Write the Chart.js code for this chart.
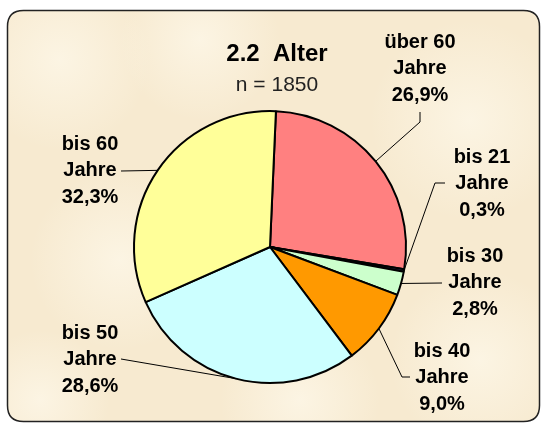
<!DOCTYPE html>
<html lang="de">
<head>
<meta charset="UTF-8">
<title>2.2 Alter</title>
<script src="https://cdn.jsdelivr.net/npm/chart.js"></script>
<style>
  html, body { margin: 0; padding: 0; background: #fff; }
  canvas { display: block; }
</style>
</head>
<body>
<canvas id="graficoAlter" width="541" height="423"></canvas>
<script>
    // Daten
    const altersgruppen = ['über 60', 'bis 21', 'bis 30', 'bis 40', 'bis 50', 'bis 60'];
    const anteile = [26.9, 0.3, 2.8, 9.0, 28.6, 32.3];
    const farben = ['#FF8080', '#333366', '#CCFFCC', '#FF9900', '#CCFFFF', '#FFFF99'];
    const titel = '2.2  Alter';
    const untertitel = 'n = 1850';

    // Lage der Beschriftungen (Mitte x, erste Zeile y) und Knick der Führungslinie
    const labelPos = [
        { x: 420, y: 42, anker: [420, 112], knick: [420, 122] },
        { x: 482, y: 157, anker: [445, 183], knick: [435, 183] },
        { x: 475, y: 256, anker: [442, 283], knick: null },
        { x: 442, y: 351, anker: [410, 377], knick: [402, 377] },
        { x: 90, y: 333, anker: [121, 359], knick: null },
        { x: 90, y: 144, anker: [121, 171], knick: null }
    ];

    function rundRechteck(ctx, x, y, w, h, r) {
        ctx.beginPath();
        ctx.moveTo(x + r, y);
        ctx.lineTo(x + w - r, y);
        ctx.quadraticCurveTo(x + w, y, x + w, y + r);
        ctx.lineTo(x + w, y + h - r);
        ctx.quadraticCurveTo(x + w, y + h, x + w - r, y + h);
        ctx.lineTo(x + r, y + h);
        ctx.quadraticCurveTo(x, y + h, x, y + h - r);
        ctx.lineTo(x, y + r);
        ctx.quadraticCurveTo(x, y, x + r, y);
        ctx.closePath();
    }

    const hintergrund = {
        id: 'hintergrund',
        beforeDraw(chart) {
            const ctx = chart.ctx;
            ctx.save();
            ctx.fillStyle = '#ffffff';
            ctx.fillRect(0, 0, chart.width, chart.height);
            rundRechteck(ctx, 7.5, 10.5, 532, 411, 16);
            ctx.fillStyle = '#F7EAD0';
            ctx.fill();
            ctx.clip();
            const flecken = [[60, 60, 90], [200, 40, 80], [470, 120, 100], [120, 260, 90], [480, 360, 90], [300, 400, 80], [40, 400, 70]];
            flecken.forEach(f => {
                const g = ctx.createRadialGradient(f[0], f[1], 0, f[0], f[1], f[2]);
                g.addColorStop(0, 'rgba(253,247,232,0.8)');
                g.addColorStop(1, 'rgba(253,247,232,0)');
                ctx.fillStyle = g;
                ctx.fillRect(f[0] - f[2], f[1] - f[2], f[2] * 2, f[2] * 2);
            });
            ctx.restore();
            ctx.save();
            rundRechteck(ctx, 7.5, 10.5, 532, 411, 16);
            ctx.strokeStyle = '#222';
            ctx.lineWidth = 1.5;
            ctx.stroke();
            ctx.restore();
        }
    };

    const beschriftung = {
        id: 'beschriftung',
        afterDraw(chart) {
            const ctx = chart.ctx;
            const meta = chart.getDatasetMeta(0);
            ctx.save();
            ctx.fillStyle = '#000';
            ctx.textAlign = 'center';
            ctx.textBaseline = 'middle';
            ctx.font = 'bold 24px "Liberation Sans", Arial, sans-serif';
            ctx.fillText(titel, 277, 54);
            ctx.font = '21px "Liberation Sans", Arial, sans-serif';
            ctx.fillStyle = '#222';
            ctx.fillText(untertitel, 277, 85);

            meta.data.forEach((arc, i) => {
                const p = arc.getProps(['x', 'y', 'startAngle', 'endAngle', 'outerRadius'], true);
                const mitte = (p.startAngle + p.endAngle) / 2;
                const ax = p.x + Math.cos(mitte) * p.outerRadius;
                const ay = p.y + Math.sin(mitte) * p.outerRadius;
                const lp = labelPos[i];

                ctx.beginPath();
                ctx.strokeStyle = '#000';
                ctx.lineWidth = 1;
                ctx.moveTo(lp.anker[0], lp.anker[1]);
                if (lp.knick) ctx.lineTo(lp.knick[0], lp.knick[1]);
                ctx.lineTo(ax, ay);
                ctx.stroke();

                const zeilen = [altersgruppen[i], 'Jahre', anteile[i].toFixed(1).replace('.', ',') + '%'];
                ctx.fillStyle = '#000';
                ctx.font = 'bold 20px "Liberation Sans", Arial, sans-serif';
                zeilen.forEach((z, k) => ctx.fillText(z, lp.x, lp.y + k * 26.5));
            });
            ctx.restore();
        }
    };

    const ctx = document.getElementById('graficoAlter').getContext('2d');

    new Chart(ctx, {
        type: 'pie',
        data: {
            labels: altersgruppen,
            datasets: [{
                data: anteile,
                backgroundColor: farben,
                borderColor: '#000',
                borderWidth: 2,
                hoverOffset: 0
            }]
        },
        options: {
            responsive: false,
            animation: false,
            rotation: 2.5,
            radius: 136,
            layout: { padding: { left: 134, right: 135, top: 111, bottom: 40 } },
            plugins: {
                legend: { display: false },
                title: { display: false },
                tooltip: { enabled: false }
            }
        },
        plugins: [hintergrund, beschriftung]
    });
</script>
</body>
</html>
